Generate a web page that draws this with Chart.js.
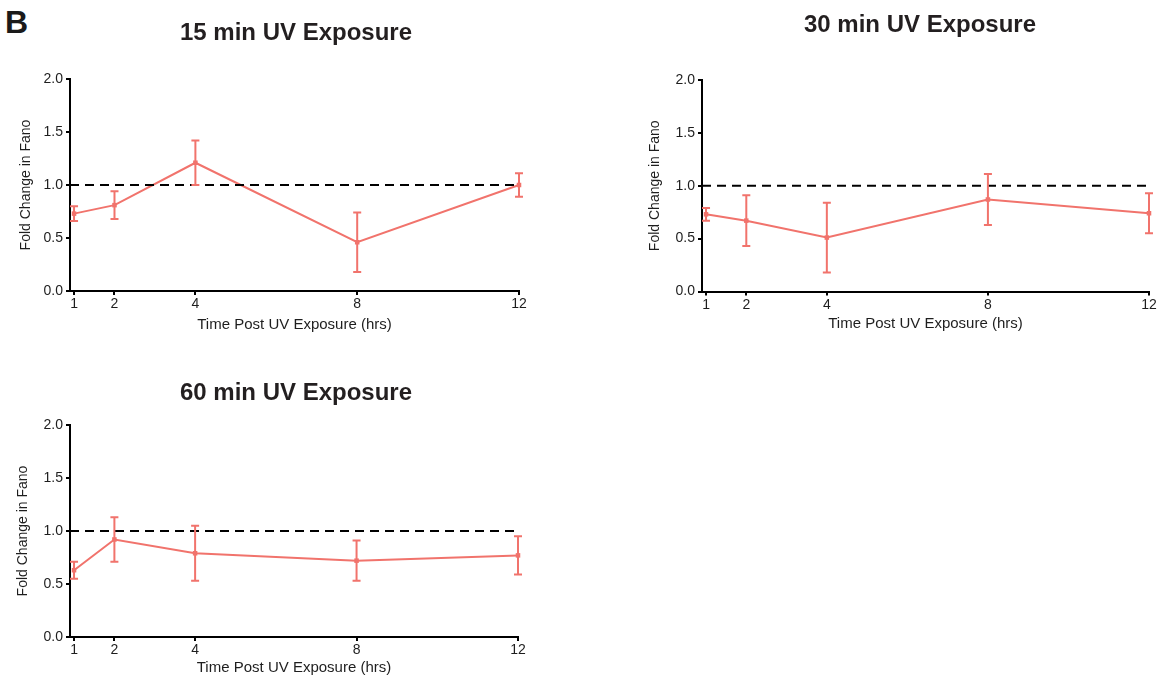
<!DOCTYPE html>
<html>
<head>
<meta charset="utf-8">
<script src="https://cdn.jsdelivr.net/npm/chart.js@4.4.0/dist/chart.umd.min.js"></script>
<style>
  html, body { margin: 0; padding: 0; background: #fff; overflow: hidden; }
  body { width: 1163px; height: 679px; position: relative; }
  canvas { position: absolute; }
  #letter {
    position: absolute; left: 5px; top: 7px;
    font: bold 32px "Liberation Sans", Arial, sans-serif; line-height: 31px; color: #1a1a1a;
  }
</style>
</head>
<body>
<div id="letter">B</div>
<canvas id="c15" width="580" height="345" style="left:0px;top:0px"></canvas>
<canvas id="c30" width="543" height="345" style="left:620px;top:0px"></canvas>
<canvas id="c60" width="580" height="345" style="left:0px;top:340px"></canvas>

<script>
// data
const hours = [1, 2, 4, 8, 12];
const xTickValues = [1, 2, 4, 8, 12];
const yTickValues = [0, 0.5, 1.0, 1.5, 2.0];
const xMin = 0.9;
const xMax = 12;
const baseline = 1.0;

const fano15 = [0.73, 0.81, 1.21, 0.46, 1.00];
const err15 = [0.07, 0.13, 0.21, 0.28, 0.11];
const fano30 = [0.73, 0.67, 0.51, 0.87, 0.74];
const err30 = [0.06, 0.24, 0.33, 0.24, 0.19];
const fano60 = [0.63, 0.92, 0.79, 0.72, 0.77];
const err60 = [0.08, 0.21, 0.26, 0.19, 0.18];

const titles = ["15 min UV Exposure", "30 min UV Exposure", "60 min UV Exposure"];
const yTitle = "Fold Change in Fano";
const xTitle = "Time Post UV Exposure (hrs)";

const salmon = "#f1736c";
const ink = "#1e1e1e";
const fontFamily = '"Liberation Sans", Arial, Helvetica, sans-serif';

// draws the error bars from the dataset's own errors, through the chart scales
const errorBars = {
  id: "errorBars",
  afterDatasetsDraw(chart) {
    const ds = chart.data.datasets[1];
    const xs = chart.scales.x, ys = chart.scales.y;
    const ctx = chart.ctx;
    ctx.save();
    ctx.strokeStyle = salmon;
    ctx.lineWidth = 2;
    ds.data.forEach((p, i) => {
      const e = ds.errors[i];
      const x = xs.getPixelForValue(p.x);
      const yHi = ys.getPixelForValue(p.y + e);
      const yLo = ys.getPixelForValue(p.y - e);
      ctx.beginPath();
      ctx.moveTo(x, yHi); ctx.lineTo(x, yLo);
      ctx.moveTo(x - 4, yHi); ctx.lineTo(x + 4, yHi);
      ctx.moveTo(x - 4, yLo); ctx.lineTo(x + 4, yLo);
      ctx.stroke();
    });
    ctx.restore();
  }
};

// panel title, drawn at a fixed spot
const panelTitle = {
  id: "panelTitle",
  afterDraw(chart, args, opts) {
    const ctx = chart.ctx;
    ctx.save();
    ctx.font = "bold 24px " + fontFamily;
    ctx.fillStyle = "#231f20";
    ctx.textAlign = "center";
    ctx.textBaseline = "middle";
    ctx.fillText(opts.text, opts.x, opts.y);
    ctx.restore();
  }
};

function makeChart(id, values, errors, title, layout) {
  const ctx = document.getElementById(id).getContext("2d");
  return new Chart(ctx, {
    type: "line",
    data: {
      datasets: [
        {
          data: [{ x: xMin, y: baseline }, { x: xMax, y: baseline }],
          borderColor: "#000",
          borderWidth: 2,
          borderDash: [9, 6],
          pointRadius: 0,
          fill: false,
        },
        {
          data: hours.map((h, i) => ({ x: h, y: values[i] })),
          errors: errors,
          borderColor: salmon,
          backgroundColor: salmon,
          borderWidth: 2,
          pointStyle: "rect",
          pointRadius: 3.2,
          pointBorderWidth: 0,
          pointBackgroundColor: salmon,
          fill: false,
          clip: false,
        },
      ],
    },
    options: {
      responsive: false,
      animation: false,
      events: [],
      layout: { padding: layout.pad },
      plugins: {
        legend: { display: false },
        tooltip: { enabled: false },
        panelTitle: { text: title, x: layout.titleX, y: layout.titleY },
      },
      scales: {
        x: {
          type: "linear",
          min: xMin,
          max: xMax,
          afterBuildTicks: (s) => { s.ticks = xTickValues.map((v) => ({ value: v })); },
          afterFit: (s) => { s.height = 44; },
          grid: { drawOnChartArea: false, drawTicks: true, tickLength: 4, color: "#000", lineWidth: 2 },
          border: { display: true, color: "#000", width: 2 },
          ticks: { color: ink, padding: 1, font: { family: fontFamily, size: 14 }, maxRotation: 0 },
          title: {
            display: true, text: xTitle, color: ink,
            font: { family: fontFamily, size: 15 },
            padding: { top: 0, bottom: layout.xTitlePad },
          },
        },
        y: {
          min: 0,
          max: 2,
          afterBuildTicks: (s) => { s.ticks = yTickValues.map((v) => ({ value: v })); },
          afterFit: (s) => { s.width = 70; },
          grid: { drawOnChartArea: false, drawTicks: true, tickLength: 4, color: "#000", lineWidth: 2 },
          border: { display: true, color: "#000", width: 2 },
          ticks: {
            color: ink, padding: 3, font: { family: fontFamily, size: 14 },
            callback: (v) => Number(v).toFixed(1),
          },
          title: {
            display: true, text: yTitle, color: ink,
            font: { family: fontFamily, size: 14 },
            padding: { top: layout.yTitlePad, bottom: 0 },
          },
        },
      },
    },
    plugins: [errorBars, panelTitle],
  });
}

makeChart("c15", fano15, err15, titles[0], {
  pad: { left: 0, right: 61, top: 79, bottom: 10 },
  titleX: 296, titleY: 33, xTitlePad: 1, yTitlePad: 17.6,
});
makeChart("c30", fano30, err30, titles[1], {
  pad: { left: 12, right: 14, top: 80, bottom: 9.5 },
  titleX: 300, titleY: 25, xTitlePad: 3, yTitlePad: 14.6,
});
makeChart("c60", fano60, err60, titles[2], {
  pad: { left: 0, right: 62, top: 85, bottom: 4 },
  titleX: 296, titleY: 53, xTitlePad: 4, yTitlePad: 14.3,
});
</script>
</body>
</html>
